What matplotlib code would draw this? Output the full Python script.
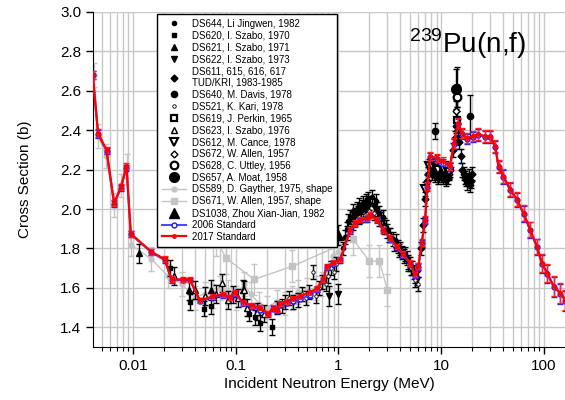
import matplotlib
matplotlib.use('Agg')
import matplotlib.pyplot as plt
from matplotlib.ticker import LogLocator, FixedLocator, NullFormatter, FixedFormatter

plt.rcParams['font.family'] = ['Liberation Sans', 'DejaVu Sans']
plt.rcParams['mathtext.fontset'] = 'custom'
plt.rcParams['mathtext.rm'] = 'Liberation Sans'

# --- evaluated standards (energy in MeV, cross section in b) ---
e_std17 = [0.00408, 0.00459, 0.00555, 0.00658, 0.00764, 0.00868, 0.00956, 0.0152, 0.0205,
           0.0238, 0.0309, 0.0359, 0.0449, 0.0601, 0.0752, 0.0879, 0.0984, 0.118, 0.143,
           0.172, 0.208, 0.232, 0.25, 0.27, 0.314, 0.364, 0.423, 0.529, 0.615, 0.713,
           0.769, 0.892, 1.04, 1.30, 1.45, 1.62, 1.89, 2.03, 2.36, 2.74, 3.18, 3.70,
           4.29, 4.98, 5.57, 6.00, 6.47, 6.97, 7.34, 7.80, 9.06, 10.5, 12.2, 13.2, 14.7,
           15.8, 17.7, 20.6, 23.0, 26.8, 29.9, 33.5, 36.1, 40.3, 46.9, 54.5, 63.2, 73.4,
           85.3, 95.4, 107, 124, 144, 161]
xs_std17 = [2.68, 2.386, 2.30, 2.03, 2.11, 2.217, 1.875, 1.783, 1.745,
            1.643, 1.643, 1.643, 1.537, 1.557, 1.567, 1.552, 1.577, 1.527, 1.512,
            1.50, 1.47, 1.50, 1.49, 1.522, 1.532, 1.547, 1.557, 1.577, 1.597, 1.643,
            1.71, 1.727, 1.745, 1.896, 1.93, 1.947, 1.955, 1.972, 1.947, 1.896, 1.854, 1.81,
            1.77, 1.727, 1.668, 1.71, 1.83, 1.947, 2.115, 2.268, 2.26, 2.242, 2.217, 2.335, 2.436,
            2.386, 2.36, 2.37, 2.38, 2.37, 2.37, 2.32, 2.217, 2.167, 2.10, 2.05, 1.98, 1.896,
            1.81, 1.727, 1.677, 1.61, 1.575, 1.54]
err_std17 = [0.02, 0.02, 0.015, 0.015, 0.015, 0.015, 0.015, 0.015, 0.015,
             0.015, 0.012, 0.012, 0.012, 0.012, 0.012, 0.012, 0.012, 0.012, 0.012,
             0.012, 0.012, 0.012, 0.012, 0.012, 0.012, 0.012, 0.012, 0.012, 0.012, 0.012,
             0.012, 0.012, 0.012, 0.015, 0.015, 0.015, 0.015, 0.015, 0.015, 0.015, 0.015, 0.015,
             0.015, 0.015, 0.015, 0.015, 0.018, 0.018, 0.02, 0.02, 0.02, 0.02, 0.02, 0.025, 0.025,
             0.025, 0.025, 0.025, 0.03, 0.03, 0.03, 0.03, 0.03, 0.035, 0.035, 0.035, 0.04, 0.04,
             0.04, 0.045, 0.045, 0.05, 0.05, 0.05]

e_std06 = e_std17
xs_std06 = [2.68, 2.38, 2.295, 2.025, 2.105, 2.21, 1.872, 1.78, 1.74,
            1.638, 1.640, 1.640, 1.535, 1.552, 1.562, 1.548, 1.572, 1.522, 1.505,
            1.49, 1.465, 1.495, 1.485, 1.515, 1.525, 1.535, 1.545, 1.562, 1.590, 1.638,
            1.705, 1.722, 1.740, 1.890, 1.925, 1.942, 1.950, 1.968, 1.942, 1.892, 1.850, 1.806,
            1.766, 1.722, 1.664, 1.706, 1.826, 1.942, 2.110, 2.262, 2.255, 2.236, 2.212, 2.330, 2.430,
            2.382, 2.356, 2.366, 2.376, 2.366, 2.366, 2.316, 2.212, 2.162, 2.095, 2.045, 1.975, 1.892,
            1.806, 1.722, 1.672, 1.605, 1.570, 1.535]

# --- experimental data sets (black) ---
e_ds644 = [1.1, 1.15, 1.2, 1.25, 1.3, 1.35, 1.4, 1.45, 1.5, 1.55, 1.6, 1.65, 1.7, 1.75, 1.8,
           1.85, 1.9, 1.95, 2.0, 2.1, 2.2, 2.3, 2.4, 2.5, 2.6, 2.7, 2.8, 2.9, 3.0, 3.2, 3.4,
           3.6, 3.8, 4.0, 4.2, 4.4, 4.6, 4.8, 5.0, 5.2, 5.4, 5.6, 5.8, 6.0]
xs_ds644 = [1.80, 1.86, 1.90, 1.94, 1.96, 1.95, 1.99, 1.97, 2.00, 1.98, 2.02, 1.99, 2.01, 2.03, 2.00,
            2.04, 2.02, 2.05, 2.03, 2.06, 2.02, 2.04, 2.00, 1.98, 1.95, 1.96, 1.92, 1.91, 1.89, 1.87, 1.85,
            1.84, 1.81, 1.80, 1.78, 1.77, 1.75, 1.73, 1.72, 1.70, 1.68, 1.66, 1.65, 1.69]

e_ds620 = [0.0229, 0.036, 0.049, 0.057, 0.135, 0.154, 0.173, 0.227]
xs_ds620 = [1.70, 1.53, 1.495, 1.51, 1.47, 1.45, 1.42, 1.40]

e_ds621 = [0.0115, 0.035, 0.058, 0.117]
xs_ds621 = [1.775, 1.59, 1.59, 1.59]

e_ds622 = [0.81, 1.0]
xs_ds622 = [1.56, 1.57]

e_ds611 = [6.3, 6.6, 6.9, 7.2, 7.5, 7.8, 8.1, 8.4, 8.7, 9.0, 9.3, 9.6, 9.9, 10.2, 10.5, 10.8,
           11.1, 11.4, 11.7, 12.0, 12.3, 13.0, 13.5, 14.0, 14.5, 15.0, 15.5, 16.0, 16.5, 17.0,
           17.5, 18.0, 18.5, 19.0, 19.5, 20.0]
xs_ds611 = [1.80, 1.92, 2.05, 2.14, 2.18, 2.21, 2.18, 2.20, 2.17, 2.19, 2.16, 2.18, 2.17, 2.19, 2.16, 2.17,
            2.15, 2.18, 2.16, 2.18, 2.20, 2.30, 2.36, 2.42, 2.40, 2.34, 2.27, 2.20, 2.18, 2.16,
            2.15, 2.13, 2.17, 2.12, 2.14, 2.18]

e_ds640 = [8.7, 14.3, 18.9]
xs_ds640 = [2.395, 2.62, 2.47]
err_ds640 = [0.04, 0.1, 0.11]

e_ds521 = [0.25, 0.28, 0.30, 0.33, 0.36, 0.40, 0.44, 0.48, 0.52, 0.56, 0.60, 0.65, 0.70, 0.75,
           0.80, 0.85, 0.90, 0.95, 1.2, 1.4, 1.6, 1.8, 2.0, 2.2, 2.5, 2.8, 3.1, 3.5, 3.9, 4.3,
           4.7, 5.1, 5.5, 5.9]
xs_ds521 = [1.50, 1.51, 1.53, 1.55, 1.53, 1.54, 1.57, 1.55, 1.58, 1.68, 1.56, 1.60, 1.63, 1.62,
            1.66, 1.70, 1.68, 1.72, 1.88, 1.93, 1.96, 1.97, 1.99, 1.98, 1.95, 1.91, 1.87, 1.82, 1.79, 1.76,
            1.72, 1.70, 1.64, 1.62]

e_ds619 = [14.1]
xs_ds619 = [2.45]

e_ds623 = [0.025, 0.04, 0.05, 0.065, 0.073, 0.085, 0.094, 0.105, 0.12, 0.13, 0.16, 0.19]
xs_ds623 = [1.66, 1.59, 1.56, 1.57, 1.625, 1.54, 1.567, 1.55, 1.59, 1.50, 1.48, 1.47]

e_ds612 = [7.0, 7.6, 8.2, 8.8, 9.4, 10.0, 10.6, 11.2, 11.8]
xs_ds612 = [2.10, 2.22, 2.22, 2.21, 2.20, 2.22, 2.20, 2.21, 2.19]

e_ds672 = [14.0]
xs_ds672 = [2.50]

e_ds628 = [14.1]
xs_ds628 = [2.57]

e_ds657 = [13.9]
xs_ds657 = [2.61]

e_ds1038 = [0.98]
xs_ds1038 = [1.87]

# --- shape measurements (gray) ---
e_ds589 = [0.0042, 0.0046, 0.0055, 0.0066, 0.0076, 0.0087, 0.0096, 0.0152, 0.022, 0.03, 0.04,
           0.05, 0.06, 0.07, 0.085, 0.1, 0.12, 0.14, 0.17, 0.2, 0.25, 0.3, 0.35, 0.4, 0.5, 0.6,
           0.7, 0.8, 0.89, 1.0]
xs_ds589 = [2.68, 2.37, 2.27, 2.02, 2.12, 2.22, 1.82, 1.745, 1.66, 1.62, 1.55,
            1.57, 1.56, 1.60, 1.58, 1.55, 1.62, 1.57, 1.52, 1.50, 1.53, 1.52, 1.55, 1.58, 1.59, 1.60,
            1.62, 1.66, 1.76, 1.78]

e_ds671 = [0.065, 0.081, 0.152, 0.357, 1.39, 2.0, 2.5, 3.0]
xs_ds671 = [1.84, 1.75, 1.643, 1.71, 1.846, 1.736, 1.736, 1.59]


fig = plt.figure(figsize=(5.65, 4.0), dpi=100)
ax = fig.add_axes([0.1646, 0.1325, 0.8354, 0.8375])

black_sets = [
    (e_ds644, xs_ds644, 0.035, 'DS644, Li Jingwen, 1982', dict(marker='o', ms=3)),
    (e_ds620, xs_ds620, 0.04, 'DS620, I. Szabo, 1970', dict(marker='s', ms=3.5)),
    (e_ds621, xs_ds621, 0.05, 'DS621, I. Szabo, 1971', dict(marker='^', ms=4)),
    (e_ds622, xs_ds622, 0.05, 'DS622, I. Szabo, 1973', dict(marker='v', ms=4)),
    (e_ds611, xs_ds611, 0.035, 'DS611, 615, 616, 617\nTUD/KRI, 1983-1985', dict(marker='D', ms=3.5)),
    (e_ds640, xs_ds640, err_ds640, 'DS640, M. Davis, 1978', dict(marker='o', ms=4.5)),
    (e_ds521, xs_ds521, 0.035, 'DS521, K. Kari, 1978', dict(marker='o', ms=2.5, mfc='white', mew=0.6)),
    (e_ds619, xs_ds619, 0.05, 'DS619, J. Perkin, 1965', dict(marker='s', ms=5, mfc='white', mew=1.6)),
    (e_ds623, xs_ds623, 0.045, 'DS623, I. Szabo, 1976', dict(marker='^', ms=4, mfc='white', mew=1)),
    (e_ds612, xs_ds612, 0.035, 'DS612, M. Cance, 1978', dict(marker='v', ms=5.5, mfc='white', mew=1.5)),
    (e_ds672, xs_ds672, 0.05, 'DS672, W. Allen, 1957', dict(marker='D', ms=3.5, mfc='white', mew=1)),
    (e_ds628, xs_ds628, 0.05, 'DS628, C. Uttley, 1956', dict(marker='o', ms=5.5, mfc='white', mew=1.6)),
    (e_ds657, xs_ds657, 0.1, 'DS657, A. Moat, 1958', dict(marker='o', ms=7)),
]

handles = []
for e, xs, err, lab, style in black_sets:
    ax.errorbar(e, xs, yerr=err, fmt='none', ecolor='black', elinewidth=1,
                capsize=2.5, capthick=1, zorder=3)
    h = ax.plot(e, xs, linestyle='none', color='black', mec='black', label=lab,
                zorder=4, **style)[0]
    handles.append(h)

# gray shape data with connecting lines
gray = '#c4c4c4'
ax.errorbar(e_ds589, xs_ds589, yerr=0.06, fmt='none', ecolor=gray, elinewidth=1,
            capsize=2.5, zorder=2)
h589 = ax.plot(e_ds589, xs_ds589, '-o', color=gray, ms=3.5, lw=1, zorder=2,
               label='DS589, D. Gayther, 1975, shape')[0]
ax.errorbar(e_ds671, xs_ds671, yerr=0.08, fmt='none', ecolor=gray, elinewidth=1,
            capsize=2.5, zorder=2)
h671 = ax.plot(e_ds671, xs_ds671, '-s', color=gray, ms=4, lw=1, zorder=2,
               label='DS671, W. Allen, 1957, shape')[0]
handles += [h589, h671]

ax.errorbar(e_ds1038, xs_ds1038, yerr=0.05, fmt='none', ecolor='black', elinewidth=1,
            capsize=2.5, zorder=3)
h1038 = ax.plot(e_ds1038, xs_ds1038, '^', color='black', ms=7, zorder=4,
                label='DS1038, Zhou Xian-Jian, 1982')[0]
handles.append(h1038)

# evaluated standards
ax.errorbar(e_std06, xs_std06, yerr=err_std17, fmt='none', ecolor='#2020ff', elinewidth=1,
            capsize=2.5, zorder=5)
h06 = ax.plot(e_std06, xs_std06, '-o', color='#4a4aff', lw=1.5, ms=3.5, mfc='white',
              mec='#1a1aff', mew=1, zorder=5, label='2006 Standard')[0]
ax.errorbar(e_std17, xs_std17, yerr=err_std17, fmt='none', ecolor='#ff2020', elinewidth=1,
            capsize=2.5, zorder=6)
h17 = ax.plot(e_std17, xs_std17, '-o', color='#ff0000', lw=1.6, ms=2.5, zorder=6,
              label='2017 Standard')[0]
handles += [h06, h17]

ax.set_xscale('log')
ax.set_xlim(0.0041, 160)
ax.set_ylim(1.3, 3.0)

ax.xaxis.set_major_locator(FixedLocator([0.01, 0.1, 1, 10, 100]))
ax.xaxis.set_major_formatter(FixedFormatter(['0.01', '0.1', '1', '10', '100']))
ax.xaxis.set_minor_locator(LogLocator(base=10, subs=range(2, 10), numticks=20))
ax.xaxis.set_minor_formatter(NullFormatter())
ax.set_yticks([1.4, 1.6, 1.8, 2.0, 2.2, 2.4, 2.6, 2.8, 3.0])
ax.set_yticklabels(['1.4', '1.6', '1.8', '2.0', '2.2', '2.4', '2.6', '2.8', '3.0'])

ax.grid(True, which='major', color='#c8c8c8', lw=1)
ax.grid(True, which='minor', axis='x', color='#c8c8c8', lw=1)
ax.set_axisbelow(True)

ax.spines['top'].set_visible(False)
ax.spines['right'].set_visible(False)
ax.tick_params(which='major', direction='out', length=5, width=1, labelsize=11)
ax.tick_params(which='minor', direction='out', length=3, width=0.8)

ax.set_xlabel('Incident Neutron Energy (MeV)', fontsize=11, labelpad=3)
ax.set_ylabel('Cross Section (b)', fontsize=11, labelpad=20)

ax.text(0.67, 0.905, r'$^{239}$Pu(n,f)', transform=ax.transAxes, fontsize=20,
        ha='left', va='center')

leg = ax.legend(handles=handles, loc='upper left', bbox_to_anchor=(0.1356, 0.994),
                borderaxespad=0, fontsize=7.0, frameon=True, fancybox=False,
                labelspacing=0.19, handlelength=2.5, handletextpad=0.6, borderpad=0.5,
                framealpha=1)
leg.get_frame().set_edgecolor('black')
leg.get_frame().set_linewidth(1)
leg.set_zorder(10)

fig.savefig('out.png', dpi=100, facecolor='white')
